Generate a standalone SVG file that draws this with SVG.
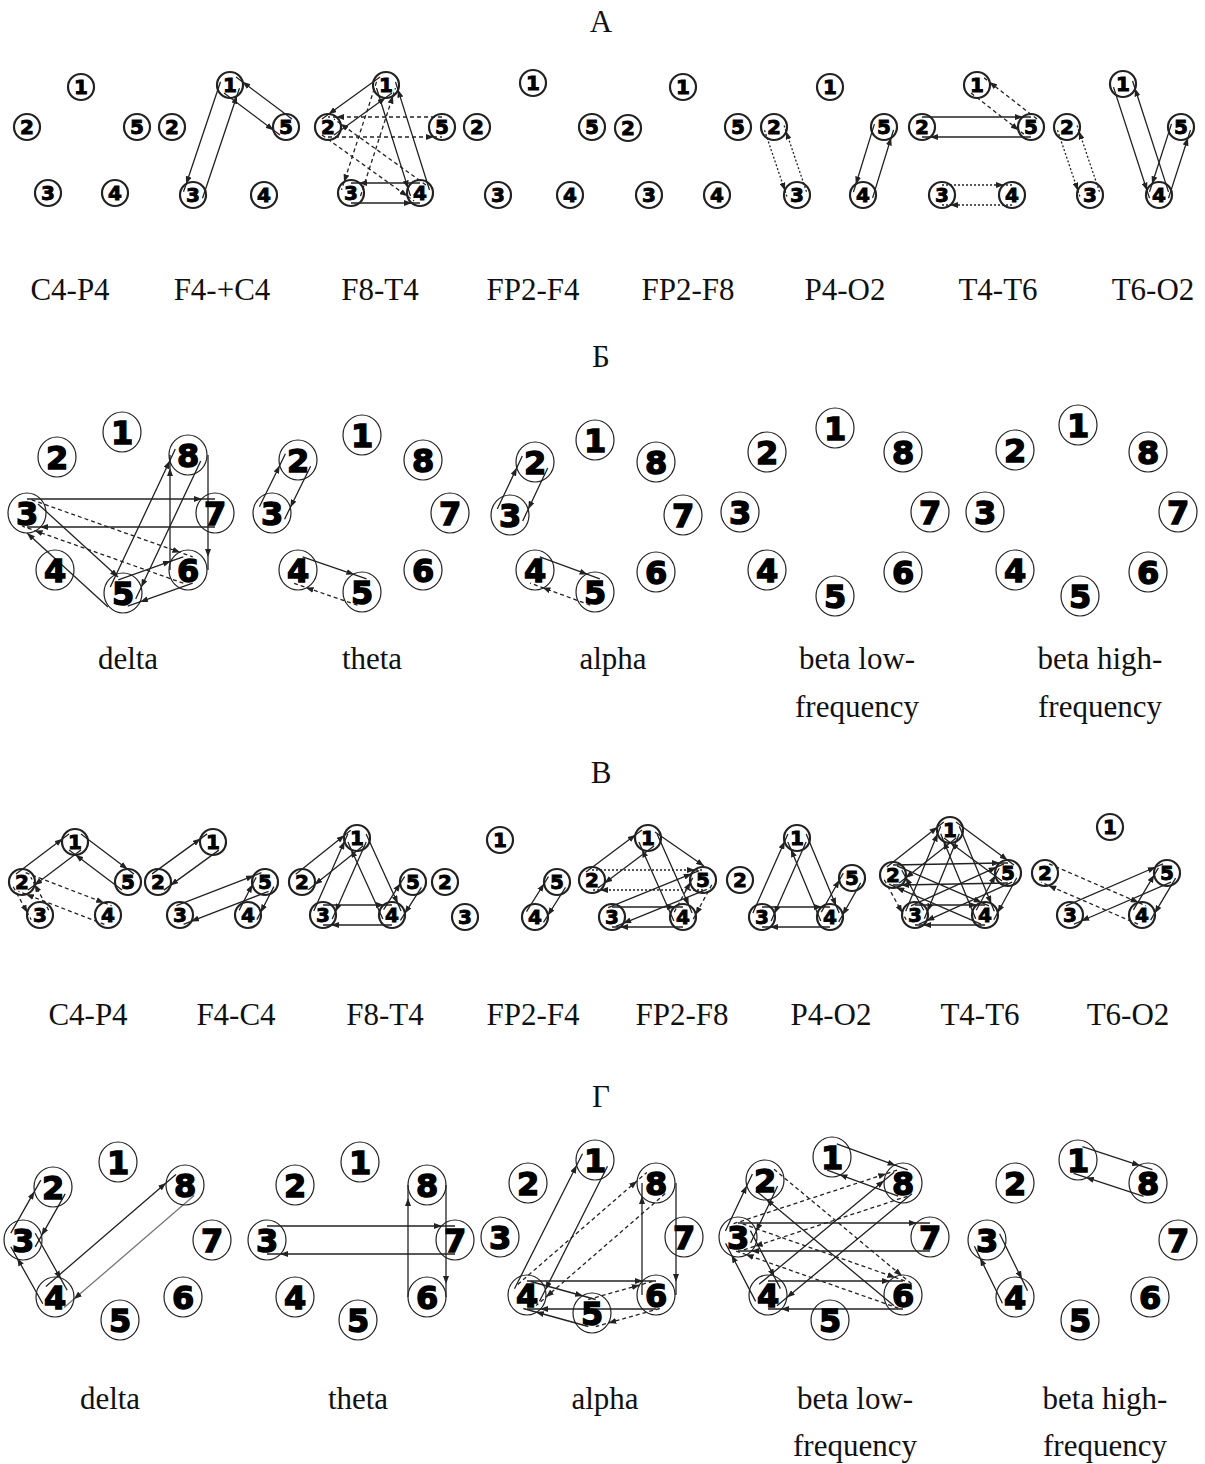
<svg xmlns="http://www.w3.org/2000/svg" width="1205" height="1464" viewBox="0 0 1205 1464">
<defs>
<marker id="ah" viewBox="0 0 8 6" refX="8" refY="3" markerWidth="8" markerHeight="6" markerUnits="userSpaceOnUse" orient="auto"><path d="M0,0 L8,3 L0,6 z" fill="#222"/></marker>
</defs>
<style>
.lbl{font-family:"Liberation Serif","Times New Roman",serif;font-size:31px;fill:#111;text-anchor:middle}
.e{fill:none;stroke:#222;stroke-width:1.3;marker-mid:url(#ah)}
.e1{fill:none;stroke:#222;stroke-width:1.3;marker-end:url(#ah)}
.d{stroke-dasharray:4 3}
.o{stroke-dasharray:2 2}
.g{stroke:#777}
.s circle{fill:none;stroke:#222;stroke-width:2.2}
.s text{font-family:"DejaVu Sans",sans-serif;font-weight:bold;font-size:20px;fill:#000;stroke:#000;stroke-width:0.9;text-anchor:middle}
.b ellipse{fill:none;stroke:#222;stroke-width:1.2}
.b text{font-family:"DejaVu Sans",sans-serif;font-weight:bold;font-size:32px;fill:#000;stroke:#000;stroke-width:1.4;text-anchor:middle}
</style>
<rect width="1205" height="1464" fill="#fff"/>
<g id="titles">
<text class="lbl" x="601" y="32">А</text>
<text class="lbl" x="601" y="367">Б</text>
<text class="lbl" x="601" y="783">В</text>
<text class="lbl" x="601" y="1107">Г</text>
</g>
<g id="labels">
<text class="lbl" x="70" y="300">C4-P4</text>
<text class="lbl" x="222" y="300">F4-+C4</text>
<text class="lbl" x="380" y="300">F8-T4</text>
<text class="lbl" x="533" y="300">FP2-F4</text>
<text class="lbl" x="688" y="300">FP2-F8</text>
<text class="lbl" x="845" y="300">P4-O2</text>
<text class="lbl" x="998" y="300">T4-T6</text>
<text class="lbl" x="1153" y="300">T6-O2</text>
<text class="lbl" x="128" y="669">delta</text>
<text class="lbl" x="372" y="669">theta</text>
<text class="lbl" x="613" y="669">alpha</text>
<text class="lbl" x="857" y="669">beta low-</text>
<text class="lbl" x="857" y="717">frequency</text>
<text class="lbl" x="1100" y="669">beta high-</text>
<text class="lbl" x="1100" y="717">frequency</text>
<text class="lbl" x="88" y="1025">C4-P4</text>
<text class="lbl" x="236" y="1025">F4-C4</text>
<text class="lbl" x="385" y="1025">F8-T4</text>
<text class="lbl" x="533" y="1025">FP2-F4</text>
<text class="lbl" x="682" y="1025">FP2-F8</text>
<text class="lbl" x="831" y="1025">P4-O2</text>
<text class="lbl" x="980" y="1025">T4-T6</text>
<text class="lbl" x="1128" y="1025">T6-O2</text>
<text class="lbl" x="110" y="1409">delta</text>
<text class="lbl" x="358" y="1409">theta</text>
<text class="lbl" x="605" y="1409">alpha</text>
<text class="lbl" x="855" y="1409">beta low-</text>
<text class="lbl" x="855" y="1456">frequency</text>
<text class="lbl" x="1105" y="1409">beta high-</text>
<text class="lbl" x="1105" y="1456">frequency</text>
</g>
<g id="connectors">
<!-- A panel 2 -->
<path class="e" d="M220.5,81.8 L186.1,184.2 L183.5,191.8"/>
<path class="e" d="M202.5,198.2 L236.9,95.8 L239.5,88.2"/>
<path class="e" d="M224,93 L273.6,130.2 L280,135"/>
<path class="e" d="M292,119 L242.4,81.8 L236,77"/>
<!-- A panel 3 -->
<path class="e" d="M380,77 L328.5,114.3 L322,119"/>
<path class="e" d="M334,135 L385.5,97.7 L392,93"/>
<path class="e d" d="M328,137 L434,137 L442,137"/>
<path class="e d" d="M442,117 L336,117 L328,117"/>
<path class="e d" d="M376.5,81.9 L344,182.3 L341.5,189.9"/>
<path class="e d" d="M360.5,196.1 L393,95.7 L395.5,88.1"/>
<path class="e" d="M376.5,88 L408.1,188.4 L410.5,196"/>
<path class="e" d="M429.5,190 L397.9,89.6 L395.5,82"/>
<path class="e d" d="M322,135 L407.5,196.3 L414,201"/>
<path class="e d" d="M426,185 L340.5,123.7 L334,119"/>
<path class="e" d="M351,203 L412,203 L420,203"/>
<path class="e" d="M420,183 L359,183 L351,183"/>
<!-- A panel 6 -->
<path class="e o" d="M764.5,130.2 L784.9,190.6 L787.5,198.2"/>
<path class="e o" d="M806.5,191.8 L786.1,131.4 L783.5,123.8"/>
<path class="e" d="M872.6,197.9 L891.2,137.5 L893.6,129.9"/>
<path class="e" d="M874.4,124.1 L855.8,184.5 L853.4,192.1"/>
<!-- A panel 7 -->
<path class="e" d="M922,117 L1023,117 L1031,117"/>
<path class="e" d="M1031,137 L930,137 L922,137"/>
<path class="e d" d="M971,93 L1018.7,130.1 L1025,135"/>
<path class="e d" d="M1037,119 L989.3,81.9 L983,77"/>
<path class="e o" d="M942,185 L1004,185 L1012,185"/>
<path class="e o" d="M1012,205 L950,205 L942,205"/>
<!-- A panel 8 -->
<path class="e o" d="M1057.5,130.2 L1077.9,190.6 L1080.5,198.2"/>
<path class="e o" d="M1099.5,191.8 L1079.1,131.4 L1076.5,123.8"/>
<path class="e" d="M1113.5,87.1 L1147,190.5 L1149.5,198.1"/>
<path class="e" d="M1168.5,191.9 L1135,88.5 L1132.5,80.9"/>
<path class="e" d="M1168.5,198.1 L1188,137.7 L1190.5,130.1"/>
<path class="e" d="M1171.5,123.9 L1152,184.3 L1149.5,191.9"/>
<!-- B delta -->
<path class="e" d="M27,499 L202,499 L215,499"/>
<path class="e" d="M215,527 L40,527 L27,527"/>
<path class="e d" d="M31.7,499.8 L180.4,552.5 L192.7,556.8"/>
<path class="e d" d="M183.3,583.2 L34.6,530.5 L22.3,526.2"/>
<path class="e1" d="M38,504 L118,577"/>
<path class="e1" d="M108,607 L27,533"/>
<path class="e" d="M110.3,587 L169.8,460.8 L175.3,449"/>
<path class="e" d="M200.7,461 L141.2,587.2 L135.7,599"/>
<path class="e" d="M170,570 L170,468 L170,455"/>
<path class="e" d="M208,455 L208,557 L208,570"/>
<path class="e" d="M118.3,579.8 L171,561.1 L183.3,556.8"/>
<path class="e" d="M192.7,583.2 L140,601.9 L127.7,606.2"/>
<!-- B theta -->
<path class="e" d="M259.4,506.8 L279.7,465.5 L285.4,453.8"/>
<path class="e" d="M310.6,466.2 L290.3,507.5 L284.6,519.2"/>
<path class="e" d="M302.6,556.8 L354.3,574.6 L366.6,578.8"/>
<path class="e d" d="M357.4,605.2 L305.7,587.4 L293.4,583.2"/>
<!-- B alpha -->
<path class="e" d="M497.3,509 L516.8,467.8 L522.3,456"/>
<path class="e" d="M547.7,468 L528.2,509.2 L522.7,521"/>
<path class="e" d="M539.8,556.9 L587.6,574.4 L599.8,578.9"/>
<path class="e d" d="M590.2,605.1 L542.4,587.6 L530.2,583.1"/>
<!-- V C4-P4 -->
<path class="e" d="M16,874 L62.6,838.8 L69,834"/>
<path class="e" d="M81,850 L34.4,885.2 L28,890"/>
<path class="e" d="M81,834 L127.6,869.2 L134,874"/>
<path class="e" d="M122,890 L75.4,854.8 L69,850"/>
<path class="e d" d="M13.2,886.8 L27.4,912.8 L31.2,919.8"/>
<path class="e d" d="M48.8,910.2 L34.6,884.2 L30.8,877.2"/>
<path class="e d" d="M25.6,872.7 L104.1,902.8 L111.6,905.7"/>
<path class="e d" d="M104.4,924.3 L25.9,894.2 L18.4,891.3"/>
<!-- V F4-C4 -->
<path class="e" d="M152.1,873.9 L200.6,838.6 L207.1,833.9"/>
<path class="e" d="M218.9,850.1 L170.4,885.4 L163.9,890.1"/>
<path class="e" d="M176.4,905.7 L254,875.6 L261.4,872.7"/>
<path class="e" d="M268.6,891.3 L191,921.4 L183.6,924.3"/>
<path class="e" d="M239.1,910.4 L252.4,884.5 L256.1,877.4"/>
<path class="e" d="M273.9,886.6 L260.6,912.5 L256.9,919.6"/>
<!-- V F8-T4 -->
<path class="e" d="M295.7,874.2 L344.5,835.2 L350.7,830.2"/>
<path class="e" d="M363.3,845.8 L314.5,884.8 L308.3,889.8"/>
<path class="e" d="M313.8,911 L344.6,841.3 L347.8,834"/>
<path class="e" d="M366.2,842 L335.4,911.7 L332.2,919"/>
<path class="e" d="M382.9,919.1 L351.2,849.4 L347.9,842.1"/>
<path class="e" d="M366.1,833.9 L397.8,903.6 L401.1,910.9"/>
<path class="e" d="M323,905 L384,905 L392,905"/>
<path class="e" d="M392,925 L331,925 L323,925"/>
<path class="e" d="M383.6,909.6 L400.3,883.4 L404.6,876.6"/>
<path class="e" d="M421.4,887.4 L404.7,913.6 L400.4,920.4"/>
<!-- V FP2-F4 -->
<path class="e" d="M526.5,911.7 L544.2,883.5 L548.5,876.7"/>
<path class="e" d="M565.5,887.3 L547.8,915.5 L543.5,922.3"/>
<!-- V FP2-F8 -->
<path class="e" d="M586,872 L635.6,834.8 L642,830"/>
<path class="e" d="M654,846 L604.4,883.2 L598,888"/>
<path class="e o" d="M592,870 L695,870 L703,870"/>
<path class="e o" d="M703,890 L600,890 L592,890"/>
<path class="e" d="M673.9,921.1 L642.1,849.4 L638.9,842.1"/>
<path class="e" d="M657.1,833.9 L688.9,905.6 L692.1,912.9"/>
<path class="e1" d="M655,832 L704,866"/>
<path class="e" d="M608.2,907.7 L691.8,873.7 L699.2,870.7"/>
<path class="e" d="M706.8,889.3 L623.2,923.3 L615.8,926.3"/>
<path class="e" d="M612,907 L675,907 L683,907"/>
<path class="e" d="M683,927 L620,927 L612,927"/>
<path class="e d" d="M674.2,912.2 L690.4,882.2 L694.2,875.2"/>
<path class="e d" d="M711.8,884.8 L695.6,914.8 L691.8,921.8"/>
<!-- V P4-O2 -->
<path class="e" d="M752.9,912.9 L784.7,841.2 L787.9,833.9"/>
<path class="e" d="M806.1,842.1 L774.3,913.8 L771.1,921.1"/>
<path class="e" d="M820.8,920.9 L790.9,849.3 L787.8,841.9"/>
<path class="e" d="M806.2,834.1 L836.1,905.7 L839.2,913.1"/>
<path class="e" d="M762,907 L822,907 L830,907"/>
<path class="e" d="M830,927 L770,927 L762,927"/>
<path class="e" d="M821.3,912.1 L839.4,880 L843.3,873.1"/>
<path class="e" d="M860.7,882.9 L842.6,915 L838.7,921.9"/>
<!-- V T4-T6 -->
<path class="e" d="M886.8,867.1 L937.5,827 L943.8,822.1"/>
<path class="e" d="M956.2,837.9 L905.5,878 L899.2,882.9"/>
<path class="e" d="M956,822 L1007.6,860.2 L1014,865"/>
<path class="e" d="M1002,881 L950.4,842.8 L944,838"/>
<path class="e" d="M905.7,911.2 L937.7,833.6 L940.7,826.2"/>
<path class="e" d="M959.3,833.8 L927.3,911.4 L924.3,918.8"/>
<path class="e" d="M975.7,918.8 L943.7,841.2 L940.7,833.8"/>
<path class="e" d="M959.3,826.2 L991.3,903.8 L994.3,911.2"/>
<path class="e" d="M893,865 L1000,863 L1008,863"/>
<path class="e" d="M1008,883 L901,885 L893,885"/>
<path class="e d" d="M884.2,879.8 L902.3,912.8 L906.2,919.8"/>
<path class="e" d="M923.8,910.2 L905.7,877.2 L901.8,870.2"/>
<path class="e" d="M897,865.8 L981.7,902.6 L989,905.8"/>
<path class="e" d="M981,924.2 L896.3,887.4 L889,884.2"/>
<path class="e" d="M915,905 L977,905 L985,905"/>
<path class="e" d="M985,925 L923,925 L915,925"/>
<path class="e" d="M910.9,905.9 L996.6,867.2 L1003.9,863.9"/>
<path class="e" d="M1012.1,882.1 L926.4,920.8 L919.1,924.1"/>
<path class="e" d="M976.2,910.2 L995.4,875.2 L999.2,868.2"/>
<path class="e" d="M1016.8,877.8 L997.6,912.8 L993.8,919.8"/>
<!-- V T6-O2 -->
<path class="e d" d="M1049,863.8 L1138.7,902.6 L1146,905.8"/>
<path class="e d" d="M1138,924.2 L1048.3,885.4 L1041,882.2"/>
<path class="e" d="M1066,905.8 L1155.7,867 L1163,863.8"/>
<path class="e" d="M1171,882.2 L1081.3,921 L1074,924.2"/>
<path class="e" d="M1133.4,909.9 L1154.3,874.8 L1158.4,867.9"/>
<path class="e" d="M1175.6,878.1 L1154.7,913.2 L1150.6,920.1"/>
<!-- G delta -->
<path class="e" d="M10.8,1233.1 L34.4,1191.4 L40.8,1180.1"/>
<path class="e" d="M65.2,1193.9 L41.6,1235.6 L35.2,1246.9"/>
<path class="e" d="M42.8,1303.8 L17.2,1258.1 L10.8,1246.8"/>
<path class="e" d="M35.2,1233.2 L60.8,1278.9 L67.2,1290.2"/>
<path class="e" d="M45.9,1286.4 L166,1182.9 L175.9,1174.4"/>
<path class="e g" d="M194.1,1195.6 L74,1299.1 L64.1,1307.6"/>
<!-- G theta -->
<path class="e" d="M267,1226 L442,1226 L455,1226"/>
<path class="e" d="M455,1254 L280,1254 L267,1254"/>
<path class="e" d="M408,1297 L408,1198 L408,1185"/>
<path class="e" d="M446,1185 L446,1284 L446,1297"/>
<!-- G alpha -->
<path class="e" d="M514.5,1288.7 L576.7,1165.3 L582.5,1153.7"/>
<path class="e" d="M607.5,1166.3 L545.4,1289.7 L539.5,1301.3"/>
<path class="e d" d="M517.8,1284.4 L637,1180.9 L646.8,1172.4"/>
<path class="e d" d="M665.2,1193.6 L546,1297.1 L536.2,1305.6"/>
<path class="e" d="M527,1281 L643,1281 L656,1281"/>
<path class="e" d="M656,1309 L540,1309 L527,1309"/>
<path class="e" d="M642,1295 L642,1196 L642,1183"/>
<path class="e" d="M676,1183 L676,1282 L676,1295"/>
<path class="e" d="M530.7,1281.5 L583.2,1296 L595.7,1299.5"/>
<path class="e" d="M588.3,1326.5 L535.8,1312 L523.3,1308.5"/>
<path class="e d" d="M588.2,1299.5 L639.7,1285 L652.2,1281.5"/>
<path class="e d" d="M659.8,1308.5 L608.3,1323 L595.8,1326.5"/>
<!-- G beta low -->
<path class="e" d="M836.8,1143.9 L895.6,1165.4 L907.8,1169.9"/>
<path class="e" d="M898.2,1196.1 L839.4,1174.6 L827.2,1170.1"/>
<path class="e" d="M725.4,1231 L746.8,1185.7 L752.4,1174"/>
<path class="e" d="M777.6,1186 L756.2,1231.3 L750.6,1243"/>
<path class="e" d="M755.6,1301.4 L731.6,1255 L725.6,1243.4"/>
<path class="e" d="M750.4,1230.6 L774.4,1277 L780.4,1288.6"/>
<path class="e" d="M738,1223 L917,1223 L930,1223"/>
<path class="e" d="M930,1251 L751,1251 L738,1251"/>
<path class="e d" d="M733.6,1223.7 L886.3,1173.7 L898.6,1169.7"/>
<path class="e d" d="M907.4,1196.3 L754.7,1246.3 L742.4,1250.3"/>
<path class="e d" d="M742.6,1223.8 L895.3,1277.5 L907.6,1281.8"/>
<path class="e d" d="M898.4,1308.2 L745.7,1254.5 L733.4,1250.2"/>
<path class="e" d="M759.1,1284.2 L884.1,1180.5 L894.1,1172.2"/>
<path class="e" d="M911.9,1193.8 L786.9,1297.5 L776.9,1305.8"/>
<path class="e" d="M768,1281 L890,1281 L903,1281"/>
<path class="e" d="M903,1309 L781,1309 L768,1309"/>
<path class="e d" d="M774,1169.2 L902,1275.9 L912,1284.2"/>
<path class="e" d="M894,1305.8 L766,1199.1 L756,1190.8"/>
<!-- G beta high -->
<path class="e" d="M1082.4,1146.7 L1140.1,1165.6 L1152.4,1169.7"/>
<path class="e" d="M1143.6,1196.3 L1085.9,1177.4 L1073.6,1173.3"/>
<path class="e" d="M1002.4,1303.2 L980.1,1257.9 L974.4,1246.2"/>
<path class="e" d="M999.6,1233.8 L1021.9,1279.1 L1027.6,1290.8"/>
</g>
<!-- Section A nodes -->
<g id="a1-1" class="s" transform="translate(81 87)"><circle r="13"/><text y="7">1</text></g>
<g id="a1-2" class="s" transform="translate(27 127)"><circle r="13"/><text y="7">2</text></g>
<g id="a1-5" class="s" transform="translate(137 127)"><circle r="13"/><text y="7">5</text></g>
<g id="a1-3" class="s" transform="translate(48 193)"><circle r="13"/><text y="7">3</text></g>
<g id="a1-4" class="s" transform="translate(115 193)"><circle r="13"/><text y="7">4</text></g>
<g id="a2-1" class="s" transform="translate(230 85)"><circle r="13"/><text y="7">1</text></g>
<g id="a2-2" class="s" transform="translate(172 127)"><circle r="13"/><text y="7">2</text></g>
<g id="a2-5" class="s" transform="translate(286 127)"><circle r="13"/><text y="7">5</text></g>
<g id="a2-3" class="s" transform="translate(193 195)"><circle r="13"/><text y="7">3</text></g>
<g id="a2-4" class="s" transform="translate(264 195)"><circle r="13"/><text y="7">4</text></g>
<g id="a3-1" class="s" transform="translate(386 85)"><circle r="13"/><text y="7">1</text></g>
<g id="a3-2" class="s" transform="translate(328 127)"><circle r="13"/><text y="7">2</text></g>
<g id="a3-5" class="s" transform="translate(442 127)"><circle r="13"/><text y="7">5</text></g>
<g id="a3-3" class="s" transform="translate(351 193)"><circle r="13"/><text y="7">3</text></g>
<g id="a3-4" class="s" transform="translate(420 193)"><circle r="13"/><text y="7">4</text></g>
<g id="a4-1" class="s" transform="translate(533 83)"><circle r="13"/><text y="7">1</text></g>
<g id="a4-2" class="s" transform="translate(477 127)"><circle r="13"/><text y="7">2</text></g>
<g id="a4-5" class="s" transform="translate(592 127)"><circle r="13"/><text y="7">5</text></g>
<g id="a4-3" class="s" transform="translate(498 195)"><circle r="13"/><text y="7">3</text></g>
<g id="a4-4" class="s" transform="translate(570 195)"><circle r="13"/><text y="7">4</text></g>
<g id="a5-1" class="s" transform="translate(683 87)"><circle r="13"/><text y="7">1</text></g>
<g id="a5-2" class="s" transform="translate(628 128)"><circle r="13"/><text y="7">2</text></g>
<g id="a5-5" class="s" transform="translate(738 127)"><circle r="13"/><text y="7">5</text></g>
<g id="a5-3" class="s" transform="translate(649 195)"><circle r="13"/><text y="7">3</text></g>
<g id="a5-4" class="s" transform="translate(717 195)"><circle r="13"/><text y="7">4</text></g>
<g id="a6-1" class="s" transform="translate(830 87)"><circle r="13"/><text y="7">1</text></g>
<g id="a6-2" class="s" transform="translate(774 127)"><circle r="13"/><text y="7">2</text></g>
<g id="a6-5" class="s" transform="translate(884 127)"><circle r="13"/><text y="7">5</text></g>
<g id="a6-3" class="s" transform="translate(797 195)"><circle r="13"/><text y="7">3</text></g>
<g id="a6-4" class="s" transform="translate(863 195)"><circle r="13"/><text y="7">4</text></g>
<g id="a7-1" class="s" transform="translate(977 85)"><circle r="13"/><text y="7">1</text></g>
<g id="a7-2" class="s" transform="translate(922 127)"><circle r="13"/><text y="7">2</text></g>
<g id="a7-5" class="s" transform="translate(1031 127)"><circle r="13"/><text y="7">5</text></g>
<g id="a7-3" class="s" transform="translate(942 195)"><circle r="13"/><text y="7">3</text></g>
<g id="a7-4" class="s" transform="translate(1012 195)"><circle r="13"/><text y="7">4</text></g>
<g id="a8-1" class="s" transform="translate(1123 84)"><circle r="13"/><text y="7">1</text></g>
<g id="a8-2" class="s" transform="translate(1067 127)"><circle r="13"/><text y="7">2</text></g>
<g id="a8-5" class="s" transform="translate(1181 127)"><circle r="13"/><text y="7">5</text></g>
<g id="a8-3" class="s" transform="translate(1090 195)"><circle r="13"/><text y="7">3</text></g>
<g id="a8-4" class="s" transform="translate(1159 195)"><circle r="13"/><text y="7">4</text></g>
<!-- Section B nodes -->
<g id="b1-1" class="b" transform="translate(122 432)"><ellipse rx="19" ry="20"/><text y="12">1</text></g>
<g id="b1-2" class="b" transform="translate(57 457)"><ellipse rx="19" ry="20"/><text y="12">2</text></g>
<g id="b1-8" class="b" transform="translate(188 455)"><ellipse rx="19" ry="20"/><text y="12">8</text></g>
<g id="b1-3" class="b" transform="translate(27 513)"><ellipse rx="19" ry="20"/><text y="12">3</text></g>
<g id="b1-7" class="b" transform="translate(215 513)"><ellipse rx="19" ry="20"/><text y="12">7</text></g>
<g id="b1-4" class="b" transform="translate(55 570)"><ellipse rx="19" ry="20"/><text y="12">4</text></g>
<g id="b1-6" class="b" transform="translate(188 570)"><ellipse rx="19" ry="20"/><text y="12">6</text></g>
<g id="b1-5" class="b" transform="translate(123 593)"><ellipse rx="19" ry="20"/><text y="12">5</text></g>
<g id="b2-1" class="b" transform="translate(362 435)"><ellipse rx="19" ry="20"/><text y="12">1</text></g>
<g id="b2-2" class="b" transform="translate(298 460)"><ellipse rx="19" ry="20"/><text y="12">2</text></g>
<g id="b2-8" class="b" transform="translate(423 460)"><ellipse rx="19" ry="20"/><text y="12">8</text></g>
<g id="b2-3" class="b" transform="translate(272 513)"><ellipse rx="19" ry="20"/><text y="12">3</text></g>
<g id="b2-7" class="b" transform="translate(450 513)"><ellipse rx="19" ry="20"/><text y="12">7</text></g>
<g id="b2-4" class="b" transform="translate(298 570)"><ellipse rx="19" ry="20"/><text y="12">4</text></g>
<g id="b2-6" class="b" transform="translate(423 570)"><ellipse rx="19" ry="20"/><text y="12">6</text></g>
<g id="b2-5" class="b" transform="translate(362 592)"><ellipse rx="19" ry="20"/><text y="12">5</text></g>
<g id="b3-1" class="b" transform="translate(595 440)"><ellipse rx="19" ry="20"/><text y="12">1</text></g>
<g id="b3-2" class="b" transform="translate(535 462)"><ellipse rx="19" ry="20"/><text y="12">2</text></g>
<g id="b3-8" class="b" transform="translate(656 462)"><ellipse rx="19" ry="20"/><text y="12">8</text></g>
<g id="b3-3" class="b" transform="translate(510 515)"><ellipse rx="19" ry="20"/><text y="12">3</text></g>
<g id="b3-7" class="b" transform="translate(683 515)"><ellipse rx="19" ry="20"/><text y="12">7</text></g>
<g id="b3-4" class="b" transform="translate(535 570)"><ellipse rx="19" ry="20"/><text y="12">4</text></g>
<g id="b3-6" class="b" transform="translate(656 572)"><ellipse rx="19" ry="20"/><text y="12">6</text></g>
<g id="b3-5" class="b" transform="translate(595 592)"><ellipse rx="19" ry="20"/><text y="12">5</text></g>
<g id="b4-1" class="b" transform="translate(835 428)"><ellipse rx="19" ry="20"/><text y="12">1</text></g>
<g id="b4-2" class="b" transform="translate(767 452)"><ellipse rx="19" ry="20"/><text y="12">2</text></g>
<g id="b4-8" class="b" transform="translate(903 452)"><ellipse rx="19" ry="20"/><text y="12">8</text></g>
<g id="b4-3" class="b" transform="translate(740 512)"><ellipse rx="19" ry="20"/><text y="12">3</text></g>
<g id="b4-7" class="b" transform="translate(930 512)"><ellipse rx="19" ry="20"/><text y="12">7</text></g>
<g id="b4-4" class="b" transform="translate(767 570)"><ellipse rx="19" ry="20"/><text y="12">4</text></g>
<g id="b4-6" class="b" transform="translate(903 572)"><ellipse rx="19" ry="20"/><text y="12">6</text></g>
<g id="b4-5" class="b" transform="translate(835 596)"><ellipse rx="19" ry="20"/><text y="12">5</text></g>
<g id="b5-1" class="b" transform="translate(1078 425)"><ellipse rx="19" ry="20"/><text y="12">1</text></g>
<g id="b5-2" class="b" transform="translate(1015 450)"><ellipse rx="19" ry="20"/><text y="12">2</text></g>
<g id="b5-8" class="b" transform="translate(1148 452)"><ellipse rx="19" ry="20"/><text y="12">8</text></g>
<g id="b5-3" class="b" transform="translate(985 512)"><ellipse rx="19" ry="20"/><text y="12">3</text></g>
<g id="b5-7" class="b" transform="translate(1178 512)"><ellipse rx="19" ry="20"/><text y="12">7</text></g>
<g id="b5-4" class="b" transform="translate(1015 570)"><ellipse rx="19" ry="20"/><text y="12">4</text></g>
<g id="b5-6" class="b" transform="translate(1148 572)"><ellipse rx="19" ry="20"/><text y="12">6</text></g>
<g id="b5-5" class="b" transform="translate(1080 596)"><ellipse rx="19" ry="20"/><text y="12">5</text></g>
<!-- Section V nodes -->
<g id="v1-1" class="s" transform="translate(75 842)"><circle r="13"/><text y="7">1</text></g>
<g id="v1-2" class="s" transform="translate(22 882)"><circle r="13"/><text y="7">2</text></g>
<g id="v1-5" class="s" transform="translate(128 882)"><circle r="13"/><text y="7">5</text></g>
<g id="v1-3" class="s" transform="translate(40 915)"><circle r="13"/><text y="7">3</text></g>
<g id="v1-4" class="s" transform="translate(108 915)"><circle r="13"/><text y="7">4</text></g>
<g id="v2-1" class="s" transform="translate(213 842)"><circle r="13"/><text y="7">1</text></g>
<g id="v2-2" class="s" transform="translate(158 882)"><circle r="13"/><text y="7">2</text></g>
<g id="v2-5" class="s" transform="translate(265 882)"><circle r="13"/><text y="7">5</text></g>
<g id="v2-3" class="s" transform="translate(180 915)"><circle r="13"/><text y="7">3</text></g>
<g id="v2-4" class="s" transform="translate(248 915)"><circle r="13"/><text y="7">4</text></g>
<g id="v3-1" class="s" transform="translate(357 838)"><circle r="13"/><text y="7">1</text></g>
<g id="v3-2" class="s" transform="translate(302 882)"><circle r="13"/><text y="7">2</text></g>
<g id="v3-5" class="s" transform="translate(413 882)"><circle r="13"/><text y="7">5</text></g>
<g id="v3-3" class="s" transform="translate(323 915)"><circle r="13"/><text y="7">3</text></g>
<g id="v3-4" class="s" transform="translate(392 915)"><circle r="13"/><text y="7">4</text></g>
<g id="v4-1" class="s" transform="translate(500 840)"><circle r="13"/><text y="7">1</text></g>
<g id="v4-2" class="s" transform="translate(445 882)"><circle r="13"/><text y="7">2</text></g>
<g id="v4-5" class="s" transform="translate(557 882)"><circle r="13"/><text y="7">5</text></g>
<g id="v4-3" class="s" transform="translate(465 917)"><circle r="13"/><text y="7">3</text></g>
<g id="v4-4" class="s" transform="translate(535 917)"><circle r="13"/><text y="7">4</text></g>
<g id="v5-1" class="s" transform="translate(648 838)"><circle r="13"/><text y="7">1</text></g>
<g id="v5-2" class="s" transform="translate(592 880)"><circle r="13"/><text y="7">2</text></g>
<g id="v5-5" class="s" transform="translate(703 880)"><circle r="13"/><text y="7">5</text></g>
<g id="v5-3" class="s" transform="translate(612 917)"><circle r="13"/><text y="7">3</text></g>
<g id="v5-4" class="s" transform="translate(683 917)"><circle r="13"/><text y="7">4</text></g>
<g id="v6-1" class="s" transform="translate(797 838)"><circle r="13"/><text y="7">1</text></g>
<g id="v6-2" class="s" transform="translate(740 880)"><circle r="13"/><text y="7">2</text></g>
<g id="v6-5" class="s" transform="translate(852 878)"><circle r="13"/><text y="7">5</text></g>
<g id="v6-3" class="s" transform="translate(762 917)"><circle r="13"/><text y="7">3</text></g>
<g id="v6-4" class="s" transform="translate(830 917)"><circle r="13"/><text y="7">4</text></g>
<g id="v7-1" class="s" transform="translate(950 830)"><circle r="13"/><text y="7">1</text></g>
<g id="v7-2" class="s" transform="translate(893 875)"><circle r="13"/><text y="7">2</text></g>
<g id="v7-5" class="s" transform="translate(1008 873)"><circle r="13"/><text y="7">5</text></g>
<g id="v7-3" class="s" transform="translate(915 915)"><circle r="13"/><text y="7">3</text></g>
<g id="v7-4" class="s" transform="translate(985 915)"><circle r="13"/><text y="7">4</text></g>
<g id="v8-1" class="s" transform="translate(1110 827)"><circle r="13"/><text y="7">1</text></g>
<g id="v8-2" class="s" transform="translate(1045 873)"><circle r="13"/><text y="7">2</text></g>
<g id="v8-5" class="s" transform="translate(1167 873)"><circle r="13"/><text y="7">5</text></g>
<g id="v8-3" class="s" transform="translate(1070 915)"><circle r="13"/><text y="7">3</text></g>
<g id="v8-4" class="s" transform="translate(1142 915)"><circle r="13"/><text y="7">4</text></g>
<!-- Section G nodes -->
<g id="g1-1" class="b" transform="translate(118 1162)"><ellipse rx="19" ry="20"/><text y="12">1</text></g>
<g id="g1-2" class="b" transform="translate(53 1187)"><ellipse rx="19" ry="20"/><text y="12">2</text></g>
<g id="g1-8" class="b" transform="translate(185 1185)"><ellipse rx="19" ry="20"/><text y="12">8</text></g>
<g id="g1-3" class="b" transform="translate(23 1240)"><ellipse rx="19" ry="20"/><text y="12">3</text></g>
<g id="g1-7" class="b" transform="translate(212 1240)"><ellipse rx="19" ry="20"/><text y="12">7</text></g>
<g id="g1-4" class="b" transform="translate(55 1297)"><ellipse rx="19" ry="20"/><text y="12">4</text></g>
<g id="g1-6" class="b" transform="translate(183 1297)"><ellipse rx="19" ry="20"/><text y="12">6</text></g>
<g id="g1-5" class="b" transform="translate(120 1320)"><ellipse rx="19" ry="20"/><text y="12">5</text></g>
<g id="g2-1" class="b" transform="translate(360 1162)"><ellipse rx="19" ry="20"/><text y="12">1</text></g>
<g id="g2-2" class="b" transform="translate(295 1185)"><ellipse rx="19" ry="20"/><text y="12">2</text></g>
<g id="g2-8" class="b" transform="translate(427 1185)"><ellipse rx="19" ry="20"/><text y="12">8</text></g>
<g id="g2-3" class="b" transform="translate(267 1240)"><ellipse rx="19" ry="20"/><text y="12">3</text></g>
<g id="g2-7" class="b" transform="translate(455 1240)"><ellipse rx="19" ry="20"/><text y="12">7</text></g>
<g id="g2-4" class="b" transform="translate(295 1297)"><ellipse rx="19" ry="20"/><text y="12">4</text></g>
<g id="g2-6" class="b" transform="translate(427 1297)"><ellipse rx="19" ry="20"/><text y="12">6</text></g>
<g id="g2-5" class="b" transform="translate(358 1320)"><ellipse rx="19" ry="20"/><text y="12">5</text></g>
<g id="g3-1" class="b" transform="translate(595 1160)"><ellipse rx="19" ry="20"/><text y="12">1</text></g>
<g id="g3-2" class="b" transform="translate(528 1183)"><ellipse rx="19" ry="20"/><text y="12">2</text></g>
<g id="g3-8" class="b" transform="translate(656 1183)"><ellipse rx="19" ry="20"/><text y="12">8</text></g>
<g id="g3-3" class="b" transform="translate(500 1237)"><ellipse rx="19" ry="20"/><text y="12">3</text></g>
<g id="g3-7" class="b" transform="translate(684 1237)"><ellipse rx="19" ry="20"/><text y="12">7</text></g>
<g id="g3-4" class="b" transform="translate(527 1295)"><ellipse rx="19" ry="20"/><text y="12">4</text></g>
<g id="g3-6" class="b" transform="translate(656 1295)"><ellipse rx="19" ry="20"/><text y="12">6</text></g>
<g id="g3-5" class="b" transform="translate(592 1313)"><ellipse rx="19" ry="20"/><text y="12">5</text></g>
<g id="g4-1" class="b" transform="translate(832 1157)"><ellipse rx="19" ry="20"/><text y="12">1</text></g>
<g id="g4-2" class="b" transform="translate(765 1180)"><ellipse rx="19" ry="20"/><text y="12">2</text></g>
<g id="g4-8" class="b" transform="translate(903 1183)"><ellipse rx="19" ry="20"/><text y="12">8</text></g>
<g id="g4-3" class="b" transform="translate(738 1237)"><ellipse rx="19" ry="20"/><text y="12">3</text></g>
<g id="g4-7" class="b" transform="translate(930 1237)"><ellipse rx="19" ry="20"/><text y="12">7</text></g>
<g id="g4-4" class="b" transform="translate(768 1295)"><ellipse rx="19" ry="20"/><text y="12">4</text></g>
<g id="g4-6" class="b" transform="translate(903 1295)"><ellipse rx="19" ry="20"/><text y="12">6</text></g>
<g id="g4-5" class="b" transform="translate(830 1320)"><ellipse rx="19" ry="20"/><text y="12">5</text></g>
<g id="g5-1" class="b" transform="translate(1078 1160)"><ellipse rx="19" ry="20"/><text y="12">1</text></g>
<g id="g5-2" class="b" transform="translate(1015 1183)"><ellipse rx="19" ry="20"/><text y="12">2</text></g>
<g id="g5-8" class="b" transform="translate(1148 1183)"><ellipse rx="19" ry="20"/><text y="12">8</text></g>
<g id="g5-3" class="b" transform="translate(987 1240)"><ellipse rx="19" ry="20"/><text y="12">3</text></g>
<g id="g5-7" class="b" transform="translate(1178 1240)"><ellipse rx="19" ry="20"/><text y="12">7</text></g>
<g id="g5-4" class="b" transform="translate(1015 1297)"><ellipse rx="19" ry="20"/><text y="12">4</text></g>
<g id="g5-6" class="b" transform="translate(1150 1297)"><ellipse rx="19" ry="20"/><text y="12">6</text></g>
<g id="g5-5" class="b" transform="translate(1080 1320)"><ellipse rx="19" ry="20"/><text y="12">5</text></g>
</svg>
